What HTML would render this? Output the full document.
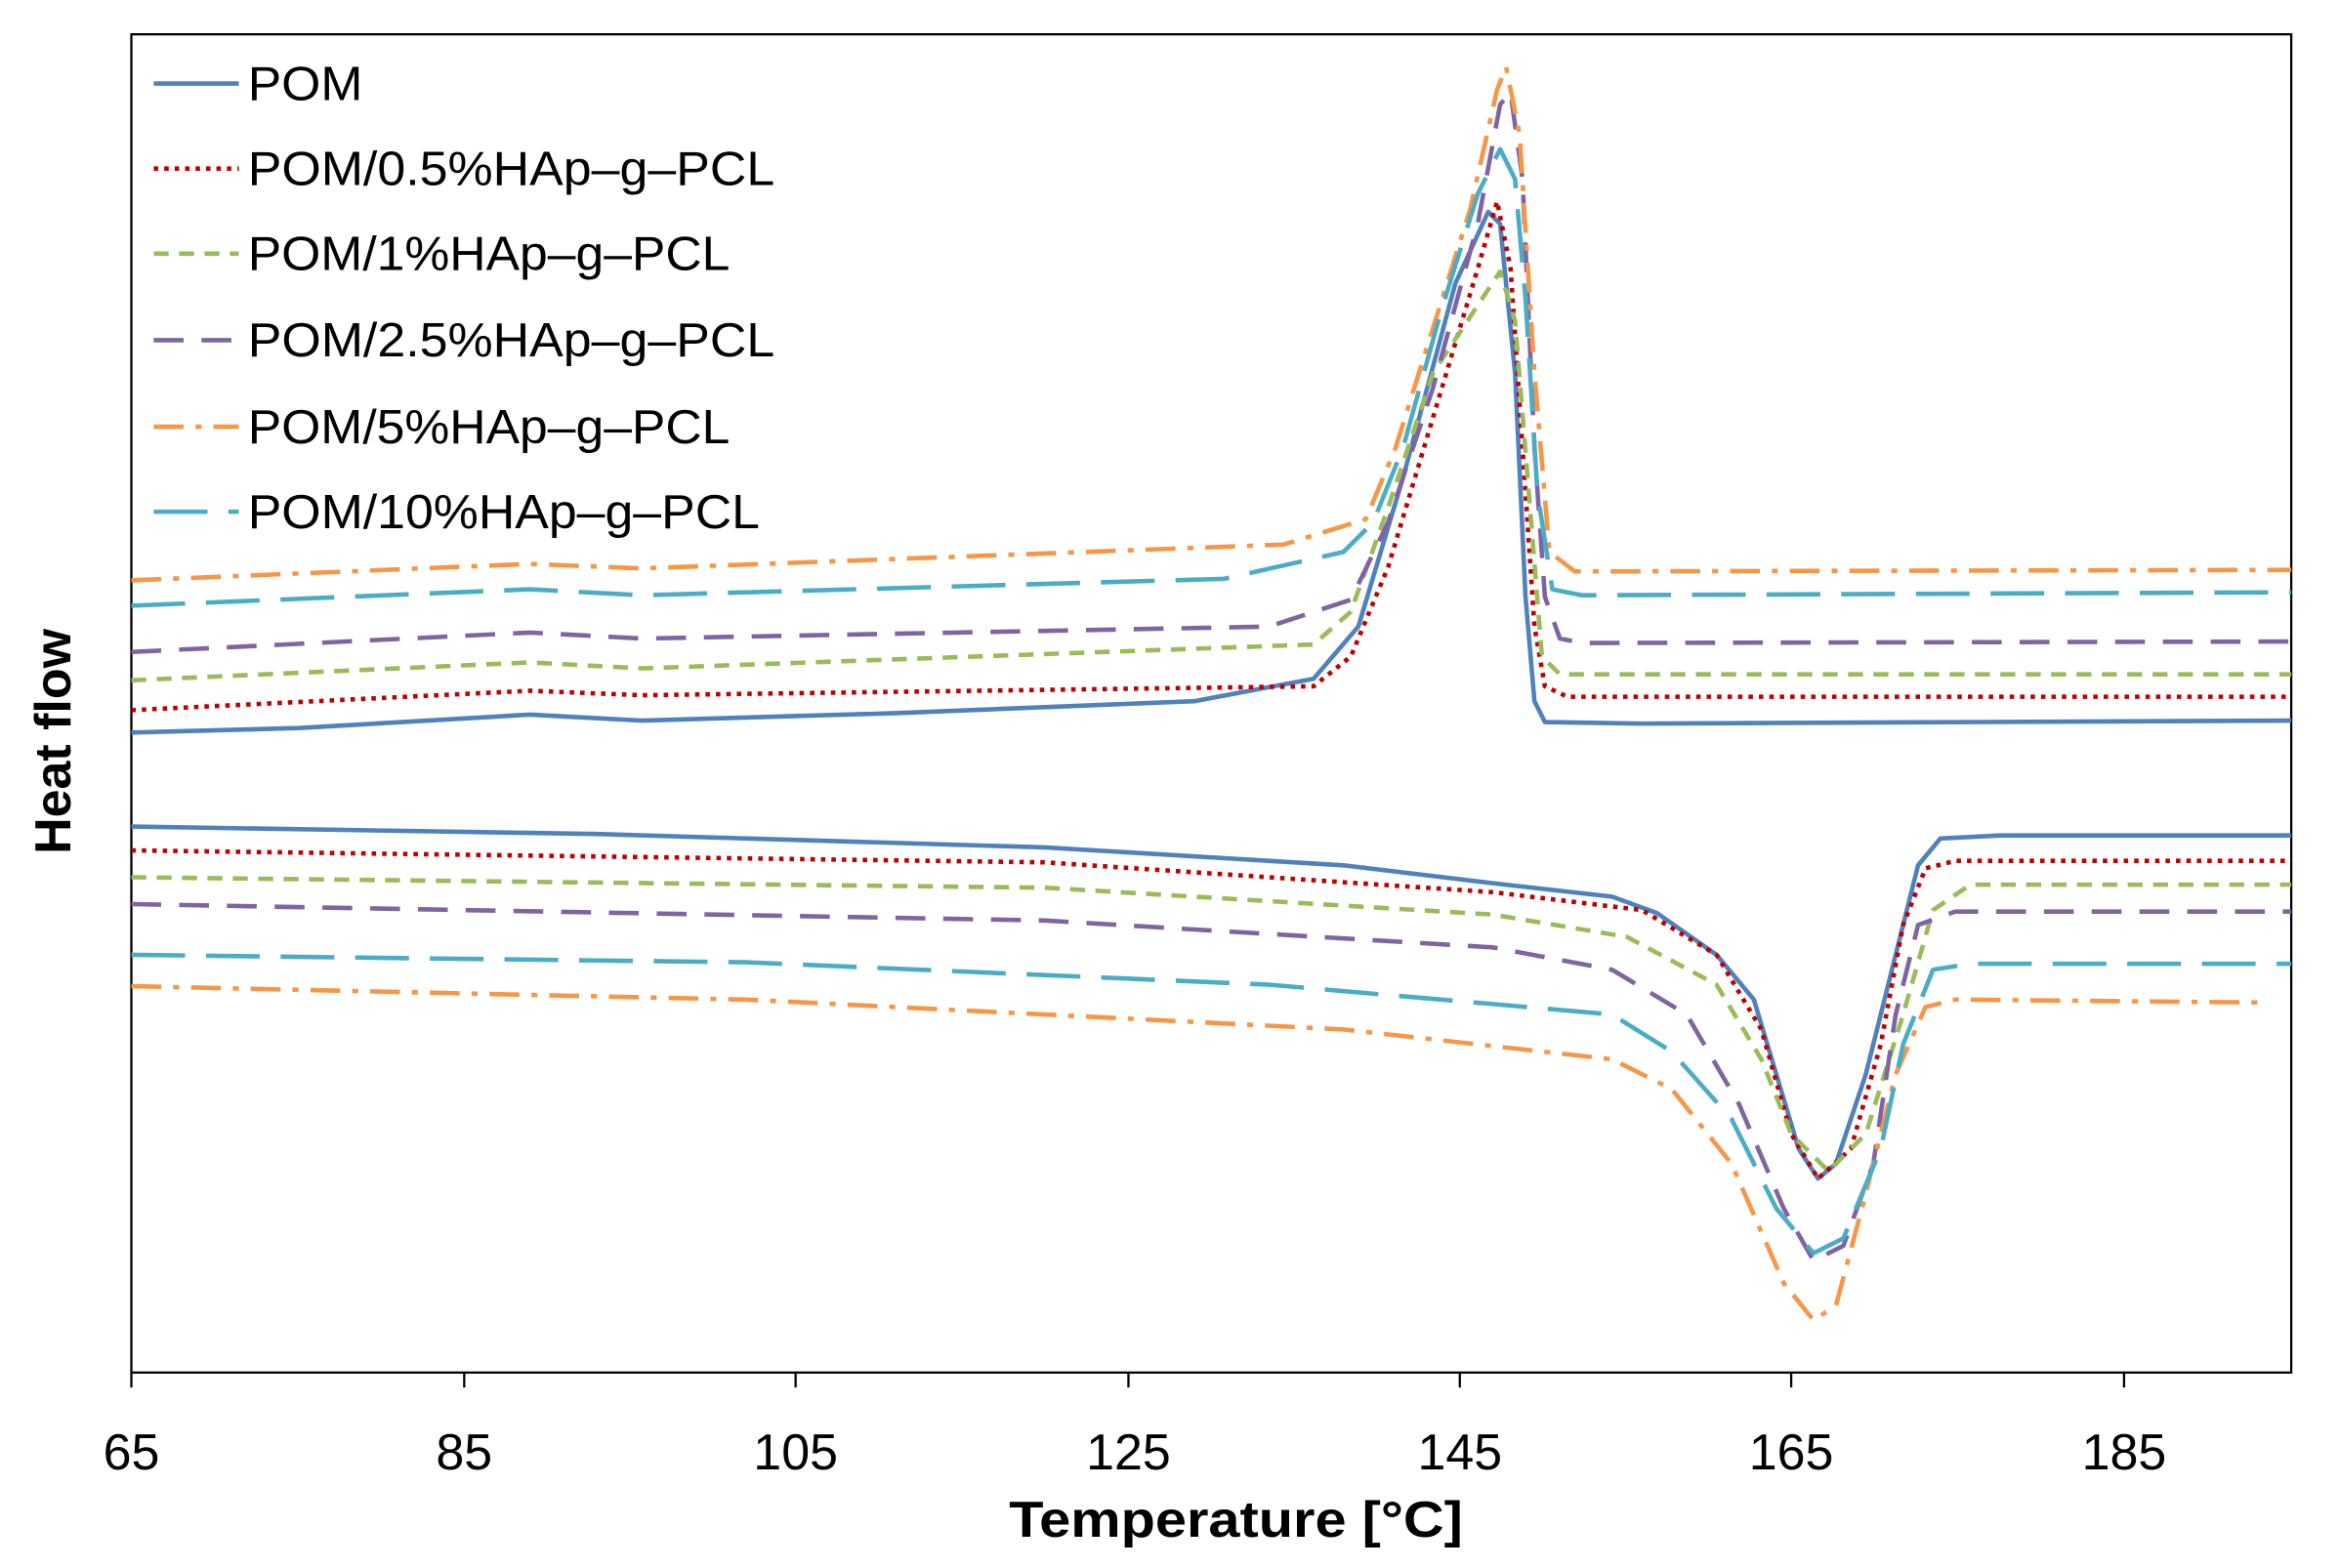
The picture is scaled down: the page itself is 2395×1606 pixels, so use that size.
<!DOCTYPE html>
<html><head><meta charset="utf-8"><style>html,body{margin:0;padding:0;background:#fff}svg{display:block}</style></head>
<body>
<svg width="2395" height="1606" viewBox="0 0 1567 1051" preserveAspectRatio="none" xmlns="http://www.w3.org/2000/svg" font-family="Liberation Sans, sans-serif">
<rect width="1567" height="1051" fill="#fff"/>
<rect x="88" y="23" width="1447" height="897" fill="none" stroke="#000" stroke-width="1.5"/>
<g stroke="#000" stroke-width="1.5">
<line x1="88" y1="920" x2="88" y2="930"/><line x1="311" y1="920" x2="311" y2="930"/><line x1="533" y1="920" x2="533" y2="930"/><line x1="756" y1="920" x2="756" y2="930"/><line x1="978" y1="920" x2="978" y2="930"/><line x1="1200" y1="920" x2="1200" y2="930"/><line x1="1423" y1="920" x2="1423" y2="930"/>
</g>
<g font-size="34" text-anchor="middle" fill="#000">
<text x="88" y="985">65</text><text x="311" y="985">85</text><text x="533" y="985">105</text><text x="756" y="985">125</text><text x="978" y="985">145</text><text x="1200" y="985">165</text><text x="1423" y="985">185</text>
</g>
<text x="828" y="1030" font-size="34" font-weight="bold" text-anchor="middle" textLength="304" lengthAdjust="spacingAndGlyphs">Temperature [°C]</text>
<text transform="translate(47,497) rotate(-90)" font-size="34" font-weight="bold" text-anchor="middle">Heat flow</text>
<g fill="none" stroke-width="3" stroke-linejoin="round" stroke-linecap="butt">
<polyline stroke="#4F81BD" points="88,491 200,488 355,479 430,483 600,478 800,470 880,455 910,420 940,320 975,190 997,142 1005,150 1015,250 1022,400 1028,470 1035,484 1100,485 1535,483"/>
<polyline stroke="#4F81BD" points="88,554 400,559 700,568 900,580 1000,592 1080,601 1110,612 1150,640 1175,670 1190,720 1205,770 1218,790 1230,780 1250,720 1270,640 1285,580 1300,562 1340,560 1535,560"/>
<polyline stroke="#C00000" stroke-dasharray="3,4" points="88,476 355,463 430,466 880,460 905,440 930,380 960,280 990,180 1003,135 1012,180 1020,300 1028,420 1035,460 1050,467 1535,467"/>
<polyline stroke="#C00000" stroke-dasharray="3,4" points="88,570 700,578 1000,598 1100,610 1150,640 1180,690 1200,760 1218,790 1240,770 1260,700 1275,620 1290,582 1310,577 1535,577"/>
<polyline stroke="#9BBB59" stroke-dasharray="10,7" points="88,456 355,444 430,448 880,432 905,410 930,340 960,250 1005,182 1015,215 1025,340 1033,440 1045,452 1535,452"/>
<polyline stroke="#9BBB59" stroke-dasharray="10,7" points="88,588 700,595 1000,613 1090,628 1150,660 1180,710 1200,760 1225,785 1250,760 1275,680 1295,610 1320,593 1535,593"/>
<polyline stroke="#8064A2" stroke-dasharray="20,12" points="88,437 355,424 430,428 850,420 905,402 930,350 960,260 990,150 1005,70 1012,62 1020,120 1028,300 1035,400 1045,428 1060,431 1535,430"/>
<polyline stroke="#8064A2" stroke-dasharray="20,12" points="88,606 700,617 1000,635 1080,650 1130,680 1165,740 1195,810 1215,845 1235,835 1255,780 1270,680 1285,620 1310,611 1535,611"/>
<polyline stroke="#F79646" stroke-dasharray="20,8,4,8" points="88,389 355,378 430,381 860,365 915,348 935,300 960,220 985,140 1003,60 1009,45 1018,90 1028,250 1038,370 1055,383 1535,382"/>
<polyline stroke="#F79646" stroke-dasharray="20,8,4,8" points="88,661 500,670 900,690 1080,710 1120,730 1160,780 1195,860 1215,885 1230,875 1250,800 1270,720 1290,675 1310,670 1520,672"/>
<polyline stroke="#4BACC6" stroke-dasharray="36,14" points="88,406 355,395 430,399 820,388 900,370 920,350 940,300 965,210 990,130 1005,100 1015,120 1022,200 1030,330 1040,395 1060,399 1535,397"/>
<polyline stroke="#4BACC6" stroke-dasharray="36,14" points="88,640 500,645 850,660 1000,673 1080,680 1120,705 1160,750 1190,810 1215,840 1235,830 1260,770 1275,700 1295,650 1320,646 1535,646"/>
<line x1="103" y1="56" x2="160" y2="56" stroke="#4F81BD"/>
<line x1="103" y1="113" x2="160" y2="113" stroke="#C00000" stroke-dasharray="3,4"/>
<line x1="103" y1="170" x2="160" y2="170" stroke="#9BBB59" stroke-dasharray="10,7"/>
<line x1="103" y1="228" x2="160" y2="228" stroke="#8064A2" stroke-dasharray="20,12"/>
<line x1="103" y1="286" x2="160" y2="286" stroke="#F79646" stroke-dasharray="20,8,4,8"/>
<line x1="103" y1="343" x2="160" y2="343" stroke="#4BACC6" stroke-dasharray="36,14"/>
</g>
<g font-size="32" fill="#000" lengthAdjust="spacingAndGlyphs">
<text x="166" y="67" textLength="77" lengthAdjust="spacingAndGlyphs">POM</text>
<text x="166" y="124" textLength="353" lengthAdjust="spacingAndGlyphs">POM/0.5%HAp–g–PCL</text>
<text x="166" y="181" textLength="323" lengthAdjust="spacingAndGlyphs">POM/1%HAp–g–PCL</text>
<text x="166" y="239" textLength="353" lengthAdjust="spacingAndGlyphs">POM/2.5%HAp–g–PCL</text>
<text x="166" y="297" textLength="323" lengthAdjust="spacingAndGlyphs">POM/5%HAp–g–PCL</text>
<text x="166" y="354" textLength="343" lengthAdjust="spacingAndGlyphs">POM/10%HAp–g–PCL</text>
</g>
</svg>
</body></html>
